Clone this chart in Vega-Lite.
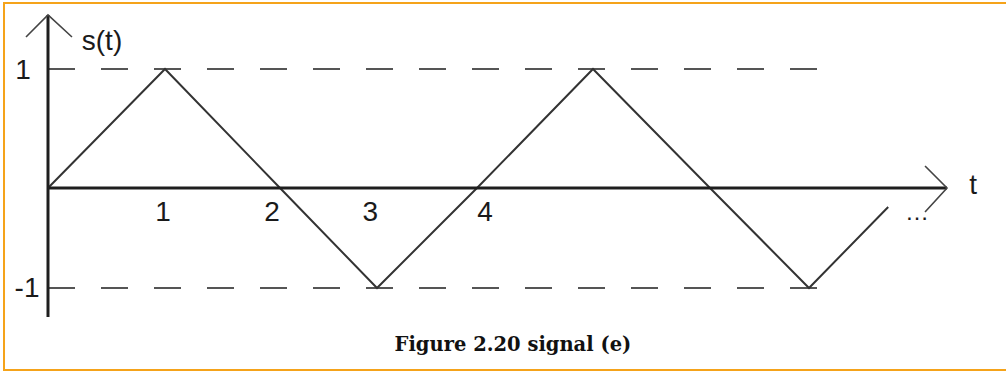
{
  "$schema": "https://vega.github.io/schema/vega-lite/v6.json",
  "width": 1006,
  "height": 372,
  "padding": 0,
  "autosize": "none",
  "background": "white",
  "config": {"view": {"stroke": null}},
  "datasets": {
    "wave": [
      {"t": 0, "s": 0}, {"t": 1, "s": 1}, {"t": 2, "s": 0}, {"t": 3, "s": -1},
      {"t": 4, "s": 0}, {"t": 5, "s": 1}, {"t": 6, "s": 0}, {"t": 7, "s": -1},
      {"t": 7.8, "s": -0.19}
    ],
    "guides": [
      {"t": 0, "t2": 7.14, "s": 1},
      {"t": 0, "t2": 7.11, "s": -1}
    ],
    "axes": [
      {"t": 0, "t2": 0, "s": -1.29, "s2": 1.454},
      {"t": 0, "t2": 8.394, "s": 0, "s2": 0}
    ],
    "arrows": [
      {"arrow": "y", "k": 1, "t": -0.188, "s": 1.269},
      {"arrow": "y", "k": 2, "t": 0, "s": 1.454},
      {"arrow": "y", "k": 3, "t": 0.205, "s": 1.269},
      {"arrow": "x", "k": 1, "t": 8.172, "s": 0.185},
      {"arrow": "x", "k": 2, "t": 8.394, "s": 0},
      {"arrow": "x", "k": 3, "t": 8.172, "s": -0.24}
    ],
    "labels": [
      {"t": 0.4615, "s": 1.227, "text": "s(t)"},
      {"t": -0.214, "s": 0.983, "text": "1"},
      {"t": -0.179, "s": -1.01, "text": "-1"},
      {"t": 0.983, "s": -0.25, "text": "1"},
      {"t": 1.93, "s": -0.25, "text": "2"},
      {"t": 2.93, "s": -0.25, "text": "3"},
      {"t": 4.07, "s": -0.25, "text": "4"},
      {"t": 8.657, "s": 0.017, "text": "t"}
    ],
    "dots": [{"t": 8.09, "s": -0.25, "text": "…"}],
    "caption": [{"t": 4.31, "s": -1.57, "text": "Figure 2.20 signal (e)"}],
    "frame": [{"t": -0.376, "t2": 9.2, "s": 1.5546, "s2": -1.82}]
  },
  "encoding": {
    "x": {"field": "t", "type": "quantitative", "axis": null,
          "scale": {"domain": [0, 1, 2, 3, 4, 5, 6, 7], "range": [48, 165, 280, 377, 477, 593, 710, 809], "nice": false, "zero": false}},
    "y": {"field": "s", "type": "quantitative", "axis": null,
          "scale": {"domain": [-1, 0, 1], "range": [288, 188, 69], "nice": false, "zero": false}}
  },
  "layer": [
    {
      "data": {"name": "frame"},
      "mark": {"type": "rect", "fill": null, "stroke": "#f5a31a", "strokeWidth": 2},
      "encoding": {"x2": {"field": "t2"}, "y2": {"field": "s2"}}
    },
    {
      "data": {"name": "guides"},
      "mark": {"type": "rule", "color": "#555555", "strokeWidth": 2, "strokeDash": [27, 26]},
      "encoding": {"x2": {"field": "t2"}}
    },
    {
      "data": {"name": "wave"},
      "mark": {"type": "line", "color": "#333333", "strokeWidth": 2},
      "encoding": {"order": {"field": "t", "type": "quantitative"}}
    },
    {
      "data": {"name": "axes"},
      "mark": {"type": "rule", "color": "#1e1e1e", "strokeWidth": 3},
      "encoding": {"x2": {"field": "t2"}, "y2": {"field": "s2"}}
    },
    {
      "data": {"name": "arrows"},
      "mark": {"type": "line", "color": "#444444", "strokeWidth": 1.6},
      "encoding": {"detail": {"field": "arrow"}, "order": {"field": "k", "type": "quantitative"}}
    },
    {
      "data": {"name": "labels"},
      "mark": {"type": "text", "font": "Liberation Sans", "fontSize": 28, "color": "#1a1a1a", "align": "center", "baseline": "middle"},
      "encoding": {"text": {"field": "text"}}
    },
    {
      "data": {"name": "dots"},
      "mark": {"type": "text", "font": "Liberation Sans", "fontSize": 24, "color": "#1a1a1a", "align": "center", "baseline": "middle"},
      "encoding": {"text": {"field": "text"}}
    },
    {
      "data": {"name": "caption"},
      "mark": {"type": "text", "font": "DejaVu Serif", "fontWeight": "bold", "fontSize": 19.5, "color": "#111111", "align": "center", "baseline": "middle"},
      "encoding": {"text": {"field": "text"}}
    }
  ]
}
